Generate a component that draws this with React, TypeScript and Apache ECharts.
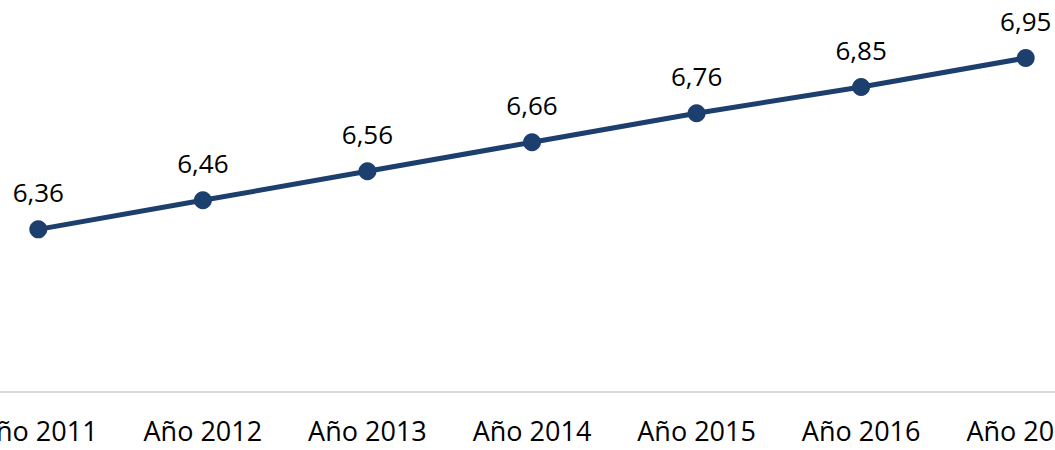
import React, { useEffect, useRef } from "react";
import * as echarts from "echarts";

const categories = ["Año 2011", "Año 2012", "Año 2013", "Año 2014", "Año 2015", "Año 2016", "Año 2017"];
const values = [6.36, 6.46, 6.56, 6.66, 6.76, 6.85, 6.95];

const FONT = "'Open Sans', 'Noto Sans', sans-serif";

export default function App() {
  const ref = useRef<HTMLDivElement>(null);
  useEffect(() => {
    if (!ref.current) return;
    const chart = echarts.init(ref.current, undefined, { renderer: "svg" });
    chart.setOption({
      animation: false,
      backgroundColor: "#ffffff",
      grid: { left: 0, right: 0, top: 43.5, bottom: 58, containLabel: false },
      xAxis: {
        type: "category",
        data: categories,
        boundaryGap: true,
        axisLine: { show: true, lineStyle: { color: "#d9d9d9", width: 2 } },
        axisTick: { show: false },
        axisLabel: { color: "#000000", fontSize: 27, fontFamily: FONT, margin: 25, interval: 0 },
        splitLine: { show: false },
      },
      yAxis: {
        type: "value",
        min: 5.8,
        max: 7.0,
        show: false,
        splitLine: { show: false },
      },
      series: [
        {
          type: "line",
          data: values,
          symbol: "circle",
          symbolSize: 18,
          lineStyle: { color: "#1c3f6e", width: 5 },
          itemStyle: { color: "#1c3f6e" },
          label: {
            show: true,
            position: "top",
            distance: 15,
            color: "#000000",
            fontSize: 26,
            fontFamily: FONT,
            formatter: (p: any) => p.value.toFixed(2).replace(".", ","),
          },
        },
      ],
    });
    return () => chart.dispose();
  }, []);
  return (
    <div style={{ position: "absolute", left: 0, top: 0, width: 1055, height: 450, overflow: "hidden", background: "#fff" }}>
      <div
        ref={ref}
        style={{ position: "absolute", left: -44, top: 0, width: 1152, height: 450 }}
      />
    </div>
  );
}
